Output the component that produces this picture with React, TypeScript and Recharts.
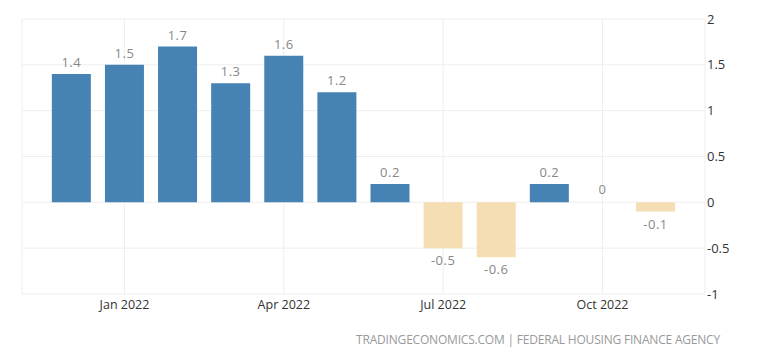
import React from 'react';
import { BarChart, Bar, XAxis, YAxis, CartesianGrid, LabelList, Cell } from 'recharts';

const months = ['Dec 2021', 'Jan 2022', 'Feb 2022', 'Mar 2022', 'Apr 2022', 'May 2022', 'Jun 2022', 'Jul 2022', 'Aug 2022', 'Sep 2022', 'Oct 2022', 'Nov 2022'];
const values = [1.4, 1.5, 1.7, 1.3, 1.6, 1.2, 0.2, -0.5, -0.6, 0.2, 0, -0.1];
const xTicks = [1, 4, 7, 10];
const yTicks = [-1, -0.5, 0, 0.5, 1, 1.5, 2];
const source = 'TRADINGECONOMICS.COM | FEDERAL HOUSING FINANCE AGENCY';

const FONT = '"Open Sans", "Noto Sans", sans-serif';
const POS = '#4682b4';
const NEG = '#f5deb3';

const data = months.map((m, i) => ({ idx: i, month: m, value: values[i] }));

// value labels: above positive bars, below negative ones
const ValueLabel = (props: any) => {
    const { x, y, width, height, value } = props;
    const top = Math.min(y, y + height);
    const bottom = Math.max(y, y + height);
    const ty = value >= 0 ? top - 7 : bottom + 17;
    return (
        <text x={x + width / 2} y={ty} textAnchor="middle" fill="#888" fontSize={13} fontFamily={FONT} letterSpacing={0.5}>
            {value}
        </text>
    );
};

export default function App() {
    return (
        <div style={{ position: 'absolute', left: 0, top: 0, width: 768, height: 358, background: '#fff' }}>
            <BarChart width={768} height={358} data={data} margin={{ top: 19, right: 13, left: 22, bottom: 34 }}>
                <CartesianGrid stroke="#eeeeee" />
                <XAxis
                    dataKey="idx"
                    type="number"
                    domain={[-0.93, 11.93]}
                    ticks={xTicks}
                    tickFormatter={(v) => months[v]}
                    height={30}
                    axisLine={false}
                    tickLine={false}
                    tickSize={0}
                    tickMargin={6}
                    tick={{ fill: '#333', fontSize: 12.5, fontFamily: FONT }}
                    allowDataOverflow
                />
                <YAxis
                    orientation="right"
                    domain={[-1, 2]}
                    ticks={yTicks}
                    width={50}
                    axisLine={false}
                    tickLine={false}
                    tickSize={0}
                    tickMargin={2}
                    tick={{ fill: '#333', fontSize: 13, fontFamily: FONT, textAnchor: 'start' }}
                />
                <Bar dataKey="value" barSize={39} minPointSize={1} isAnimationActive={false}>
                    {data.map((d) => (
                        <Cell key={d.idx} fill={d.value > 0 ? POS : d.value < 0 ? NEG : 'transparent'} />
                    ))}
                    <LabelList dataKey="value" content={ValueLabel} />
                </Bar>
            </BarChart>
            <div
                style={{
                    position: 'absolute',
                    right: 48,
                    top: 331,
                    fontFamily: FONT,
                    fontSize: 12,
                    letterSpacing: -0.2,
                    color: '#999',
                    whiteSpace: 'nowrap',
                }}
            >
                {source}
            </div>
        </div>
    );
}
